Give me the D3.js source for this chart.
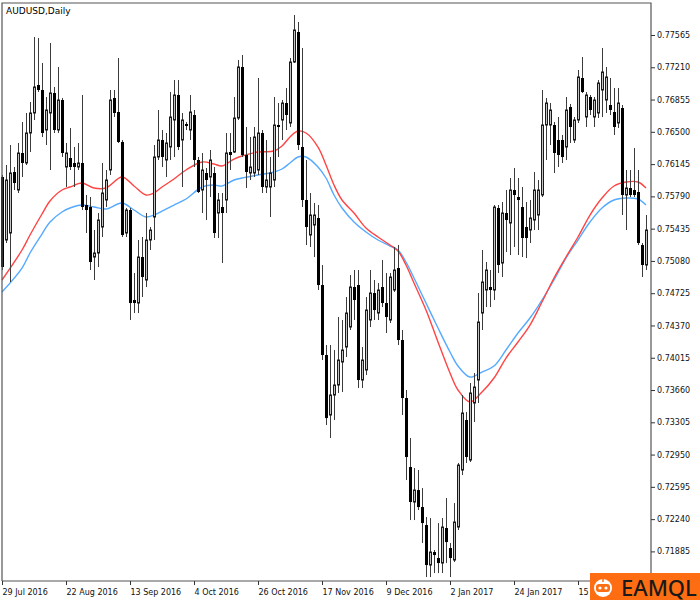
<!DOCTYPE html>
<html><head><meta charset="utf-8">
<script src="https://cdn.jsdelivr.net/npm/d3@7"></script>
<style>html,body{margin:0;padding:0;background:#fff;} svg{display:block;}</style>
</head><body>
<svg id="chart" width="700" height="600"></svg>
<script>
const title = "AUDUSD,Daily";

const open = [0.76003,0.75310,0.75387,0.76058,0.75860,0.76267,0.76157,0.76487,0.76707,0.77015,
0.76960,0.76520,0.76707,0.76927,0.76520,0.76850,0.76113,0.76212,0.76157,0.76113,
0.76157,0.75695,0.75673,0.75123,0.75167,0.75453,0.75750,0.76080,0.76872,0.76718,
0.76388,0.75387,0.75640,0.74650,0.74617,0.75123,0.74870,0.75310,0.75563,0.76223,
0.76410,0.76190,0.76333,0.76630,0.76905,0.76410,0.76586,0.76520,0.76685,0.76190,
0.75860,0.76047,0.76003,0.76047,0.75607,0.75673,0.75750,0.76278,0.76278,0.76652,
0.77213,0.76245,0.76047,0.76047,0.76080,0.76487,0.75893,0.75893,0.75970,0.76575,
0.76630,0.76817,0.76597,0.77268,0.77598,0.76333,0.75750,0.75365,0.75475,0.75552,
0.74815,0.74045,0.73385,0.73605,0.73715,0.73968,0.74133,0.74353,0.74793,0.74815,
0.73770,0.73880,0.74430,0.74727,0.74507,0.74793,0.74617,0.74430,0.74760,0.75002,
0.74210,0.73572,0.72813,0.72428,0.72560,0.72373,0.72175,0.71735,0.71878,0.71812,
0.71757,0.72142,0.71922,0.71790,0.72153,0.72780,0.73330,0.72890,0.73517,0.73770,
0.74507,0.74760,0.74793,0.74760,0.75662,0.75057,0.75607,0.75497,0.75860,0.75783,
0.75673,0.75453,0.75420,0.75530,0.75585,0.75805,0.76575,0.76575,0.76575,0.76410,
0.76410,0.76333,0.76773,0.76410,0.76630,0.77092,0.76663,0.76883,0.76663,0.76707,
0.76960,0.76850,0.76795,0.76718,0.76597,0.76762,0.75805,0.75882,0.75860,0.75838,
0.75255,0.75035];

const high = [0.76025,0.76135,0.76355,0.76113,0.76377,0.76608,0.76707,0.76828,0.77543,0.77532,
0.77257,0.76883,0.77477,0.76993,0.77213,0.76872,0.76377,0.76542,0.76333,0.76377,
0.76905,0.75805,0.75783,0.75420,0.75607,0.76157,0.76080,0.76960,0.76960,0.77312,
0.76410,0.75662,0.75662,0.74947,0.75310,0.75343,0.75607,0.75453,0.76355,0.76740,
0.76520,0.76487,0.76938,0.77070,0.77070,0.76707,0.76608,0.76905,0.76740,0.76223,
0.76267,0.76102,0.76300,0.76113,0.75827,0.75827,0.76487,0.76487,0.76883,0.77290,
0.77345,0.76553,0.76443,0.76553,0.77092,0.76520,0.76410,0.76223,0.76883,0.76817,
0.76850,0.76982,0.77312,0.77785,0.77708,0.77422,0.76190,0.75827,0.75717,0.75695,
0.75035,0.74155,0.74155,0.74100,0.74463,0.74430,0.74683,0.74925,0.74980,0.74980,
0.74133,0.74683,0.74980,0.74870,0.74837,0.75090,0.74947,0.74947,0.75233,0.75255,
0.74320,0.73660,0.73132,0.72802,0.72780,0.72582,0.72263,0.72252,0.71900,0.72197,
0.72252,0.72472,0.71977,0.72417,0.72857,0.73605,0.73418,0.73737,0.73847,0.74727,
0.75200,0.75068,0.74980,0.75695,0.75695,0.75728,0.75860,0.75992,0.76102,0.75992,
0.75893,0.75728,0.75750,0.76058,0.75970,0.76960,0.76872,0.76817,0.76608,0.76663,
0.76465,0.76883,0.76806,0.76663,0.77180,0.77323,0.76938,0.76905,0.76883,0.77070,
0.77422,0.77213,0.77092,0.76982,0.76982,0.76795,0.76080,0.76080,0.76322,0.76080,
0.75277,0.75585];

const low = [0.74980,0.75277,0.74848,0.75860,0.75827,0.76003,0.76135,0.76278,0.76630,0.76938,
0.76443,0.76355,0.76080,0.76487,0.76487,0.76223,0.75893,0.76080,0.75893,0.76080,
0.75640,0.75387,0.74980,0.74870,0.75013,0.75343,0.75673,0.76025,0.76663,0.76377,
0.75343,0.75343,0.74430,0.74507,0.74507,0.74683,0.74793,0.75200,0.75310,0.76190,
0.76113,0.76003,0.76190,0.76223,0.76300,0.75893,0.76520,0.76410,0.76113,0.75827,
0.75607,0.75530,0.75783,0.75332,0.75332,0.75057,0.75607,0.76080,0.76267,0.76630,
0.76223,0.75882,0.75970,0.76003,0.76025,0.75827,0.75827,0.75563,0.75893,0.76223,
0.76410,0.76520,0.76553,0.77257,0.76300,0.75673,0.75255,0.75233,0.75123,0.74760,
0.73990,0.73275,0.73132,0.73330,0.73627,0.73638,0.74023,0.74320,0.74430,0.73682,
0.73682,0.73825,0.74353,0.74430,0.74430,0.74573,0.74287,0.74397,0.74738,0.74155,
0.73385,0.72670,0.72230,0.72230,0.72340,0.71977,0.71603,0.71603,0.71647,0.71647,
0.71647,0.71757,0.71603,0.71768,0.72120,0.72725,0.72857,0.72868,0.73308,0.73517,
0.74320,0.74573,0.74573,0.74650,0.74947,0.74903,0.75178,0.75145,0.75233,0.75145,
0.75123,0.75112,0.75277,0.75420,0.75420,0.75783,0.76190,0.76355,0.76047,0.76113,
0.76157,0.76190,0.76377,0.76377,0.76597,0.76927,0.76553,0.76685,0.76553,0.76652,
0.76663,0.76707,0.76685,0.76465,0.76542,0.75585,0.75420,0.75783,0.75783,0.75255,
0.74903,0.74980];

const close = [0.75013,0.75970,0.76047,0.75937,0.76267,0.76157,0.76487,0.76707,0.76993,0.76960,
0.76487,0.76740,0.76927,0.76520,0.76850,0.76267,0.76267,0.76113,0.76113,0.76157,
0.75673,0.75640,0.75068,0.75167,0.75530,0.75827,0.75970,0.76850,0.76707,0.76388,
0.75365,0.75640,0.74617,0.74617,0.75123,0.74903,0.75310,0.75420,0.76223,0.76410,
0.76223,0.76377,0.76663,0.76905,0.76333,0.76630,0.76564,0.76718,0.76190,0.75838,
0.76080,0.75970,0.76190,0.75387,0.75750,0.75607,0.76267,0.76245,0.76652,0.77213,
0.76245,0.76058,0.76113,0.76443,0.76487,0.75893,0.75970,0.76047,0.76575,0.76553,
0.76817,0.76685,0.77268,0.77620,0.76355,0.75750,0.75453,0.75585,0.75585,0.74815,
0.74045,0.73352,0.73605,0.73715,0.73990,0.74100,0.74507,0.74793,0.74650,0.73770,
0.73990,0.74540,0.74727,0.74540,0.74760,0.74617,0.74463,0.74903,0.74980,0.74210,
0.73572,0.72923,0.72428,0.72560,0.72373,0.72197,0.71735,0.71878,0.71845,0.71757,
0.72153,0.71988,0.71812,0.72208,0.72835,0.73407,0.72923,0.73627,0.73693,0.74408,
0.74848,0.74980,0.74760,0.75673,0.75035,0.75607,0.75530,0.75860,0.75805,0.75750,
0.75332,0.75332,0.75552,0.75860,0.75860,0.76575,0.76817,0.76740,0.76267,0.76245,
0.76223,0.76740,0.76553,0.76630,0.77103,0.76938,0.76905,0.76740,0.76850,0.77037,
0.77158,0.77103,0.76740,0.76553,0.76817,0.75805,0.75882,0.75805,0.75805,0.75277,
0.75035,0.75420];

// moving averages read at sample bars
const maIndex = [0,5,7,10,12,15,17,20,23,26,30,33,36,38,40,43,46,50,53,55,58,60,64,68,70,72,74,76,79,81,83,85,88,91,94,97,99,101,103,106,109,112,114,117,120,123,126,129,132,135,138,141,144,147,150,153,156,159,161];
const maRed = [0.74870,0.75200,0.75365,0.75596,0.75739,0.75860,0.75893,0.75937,0.75882,0.75882,0.76003,0.75904,0.75805,0.75827,0.75893,0.75981,0.76080,0.76168,0.76146,0.76124,0.76201,0.76234,0.76278,0.76289,0.76344,0.76443,0.76509,0.76487,0.76333,0.76135,0.75915,0.75750,0.75607,0.75442,0.75343,0.75255,0.75189,0.75035,0.74837,0.74540,0.74188,0.73847,0.73660,0.73528,0.73638,0.73792,0.74012,0.74188,0.74375,0.74628,0.74892,0.75123,0.75343,0.75585,0.75772,0.75904,0.75948,0.75948,0.75882];
const maBlue = [0.74738,0.75002,0.75167,0.75376,0.75508,0.75618,0.75662,0.75695,0.75673,0.75651,0.75717,0.75640,0.75563,0.75585,0.75629,0.75695,0.75761,0.75893,0.75915,0.75904,0.75970,0.75992,0.76025,0.76058,0.76091,0.76157,0.76223,0.76223,0.76113,0.75992,0.75805,0.75662,0.75508,0.75398,0.75310,0.75244,0.75200,0.75068,0.74892,0.74617,0.74342,0.74078,0.73924,0.73803,0.73858,0.73924,0.74100,0.74287,0.74452,0.74650,0.74870,0.75112,0.75310,0.75508,0.75662,0.75750,0.75772,0.75761,0.75695];

const priceTicks = [0.71885,0.72240,0.72595,0.72950,0.73305,0.73660,0.74015,0.74370,0.74725,0.75080,0.75435,0.75790,0.76145,0.76500,0.76855,0.77210,0.77565];
const dateLabels = ["29 Jul 2016","22 Aug 2016","13 Sep 2016","4 Oct 2016","26 Oct 2016","17 Nov 2016","9 Dec 2016","2 Jan 2017","24 Jan 2017","15 Feb 2017"];
const dateIndex = [0,16,32,48,64,80,96,112,128,144];

const svg = d3.select("#chart");
const frame = {left: 2, top: 3, right: 651, bottom: 581};
const x = d3.scaleLinear().domain([0, open.length - 1]).range([2, 646]);
const y = d3.scaleLinear().domain([0.71885, 0.77565]).range([551.4, 35]);

svg.append("rect").attr("width", 700).attr("height", 600).attr("fill", "#fff");

// moving averages
const line = d3.line().x(d => x(d[0])).y(d => y(d[1])).curve(d3.curveCatmullRom.alpha(0.5));
svg.append("path").datum(maIndex.map((d, i) => [d, maBlue[i]]))
  .attr("d", line).attr("fill", "none").attr("stroke", "#55aaff").attr("stroke-width", 1.4);
svg.append("path").datum(maIndex.map((d, i) => [d, maRed[i]]))
  .attr("d", line).attr("fill", "none").attr("stroke", "#ff4444").attr("stroke-width", 1.4);

// candles
const candles = svg.append("g");
open.forEach((o, i) => {
  const c = close[i];
  const cx = Math.round(x(i));
  candles.append("line")
    .attr("x1", cx + 0.5).attr("x2", cx + 0.5)
    .attr("y1", y(high[i])).attr("y2", y(low[i]))
    .attr("stroke", "#3c3c3c").attr("stroke-width", 1);
  const top = y(Math.max(o, c)), bot = y(Math.min(o, c));
  const h = Math.max(1, bot - top);
  if (c < o) {
    candles.append("rect").attr("x", cx - 1).attr("width", 3)
      .attr("y", top).attr("height", h).attr("fill", "#000");
  } else {
    candles.append("rect").attr("x", cx - 0.5).attr("width", 2)
      .attr("y", top).attr("height", h)
      .attr("fill", "#c4c4c4").attr("stroke", "#1a1a1a").attr("stroke-width", 1);
  }
});

// frame
svg.append("path")
  .attr("d", `M${frame.left},${frame.bottom}V${frame.top}H${frame.right}V${frame.bottom}H${frame.left}`)
  .attr("fill", "none").attr("stroke", "#555").attr("stroke-width", 1.2);

// price axis
const yAxis = d3.axisRight(y).tickValues(priceTicks).tickSize(4).tickPadding(2)
  .tickFormat(d3.format(".5f"));
const ya = svg.append("g").attr("transform", `translate(${frame.right},0)`).call(yAxis);
ya.select(".domain").remove();
ya.selectAll("line").attr("stroke", "#333");
ya.selectAll("text").attr("font-family", "DejaVu Sans").attr("font-size", 8).attr("fill", "#111");

// date axis (the watermark covers the right end, as in the original)
svg.append("clipPath").attr("id", "dateClip")
  .append("rect").attr("x", 0).attr("y", 570).attr("width", 590).attr("height", 30);
const xAxis = d3.axisBottom(x).tickValues(dateIndex).tickSize(4)
  .tickFormat((d, i) => dateLabels[i]);
const xa = svg.append("g").attr("clip-path", "url(#dateClip)")
  .append("g").attr("transform", `translate(0,${frame.bottom})`).call(xAxis);
xa.select(".domain").remove();
xa.selectAll("line").attr("stroke", "#333");
xa.selectAll("text").attr("font-family", "DejaVu Sans").attr("font-size", 8).attr("fill", "#111")
  .attr("text-anchor", "start").attr("dx", 0).attr("x", 0).attr("y", 8);

// title
svg.append("text").attr("x", 6).attr("y", 14).text(title)
  .attr("font-family", "DejaVu Sans").attr("font-size", 9).attr("fill", "#000");

// watermark logo
const logo = svg.append("g");
logo.append("rect").attr("x", 590).attr("y", 573).attr("width", 110).attr("height", 27).attr("fill", "#ff6d12");
logo.append("circle").attr("cx", 603).attr("cy", 588).attr("r", 9).attr("fill", "#fff");
logo.append("line").attr("x1", 603).attr("x2", 603).attr("y1", 578).attr("y2", 582).attr("stroke", "#ff6d12").attr("stroke-width", 1.5);
logo.append("rect").attr("x", 596).attr("y", 584).attr("width", 14).attr("height", 8).attr("rx", 3).attr("fill", "#ff6d12");
logo.append("circle").attr("cx", 600).attr("cy", 588).attr("r", 1.6).attr("fill", "#fff");
logo.append("circle").attr("cx", 606).attr("cy", 588).attr("r", 1.6).attr("fill", "#fff");
logo.append("text").attr("x", 621).attr("y", 595.5).text("EAMQL")
  .attr("font-family", "Noto Sans").attr("font-size", 22).attr("font-weight", 500)
  .attr("fill", "#1a1a1a");
</script>
</body></html>
